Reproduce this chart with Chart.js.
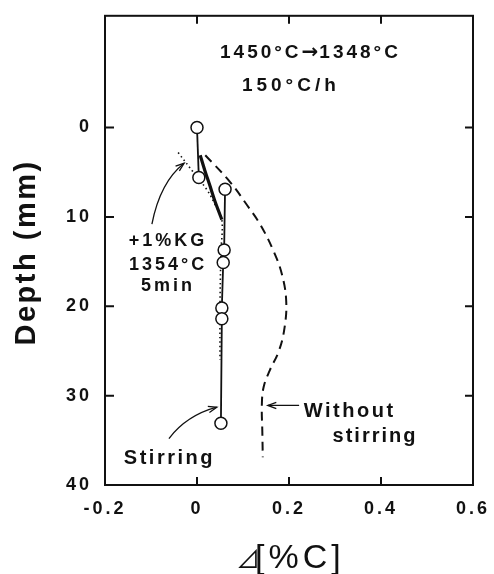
<!DOCTYPE html>
<html>
<head>
<meta charset="utf-8">
<script src="https://cdn.jsdelivr.net/npm/chart.js@4.4.1/dist/chart.umd.min.js"></script>
<style>
  html, body { margin: 0; padding: 0; background: #fff; }
</style>
</head>
<body>
<canvas id="chart" width="494" height="574"></canvas>
<script>
// values: x = delta %C, y = depth in mm
const stirTopX = [0, 0.004];
const stirTopY = [0, 5.6];
const stirX = [0.061, 0.059, 0.057, 0.054, 0.054, 0.052];
const stirY = [6.9, 13.7, 15.1, 20.2, 21.4, 33.1];
const calcX = [0.007, 0.017, 0.028, 0.040, 0.054];
const calcY = [3.1, 4.8, 6.5, 8.4, 10.3];
const kgX = [-0.041, -0.011, 0.022, 0.039, 0.054, 0.052, 0.050, 0.050];
const kgY = [2.8, 4.8, 7.0, 8.6, 10.3, 14, 20, 26];
const noStirX = [0.018, 0.072, 0.109, 0.138, 0.167, 0.185, 0.194, 0.190, 0.178, 0.158, 0.145, 0.141, 0.142, 0.143];
const noStirY = [3.1, 6.1, 8.7, 10.9, 13.9, 16.5, 19.5, 22.5, 25.0, 27.2, 29.0, 31.0, 34.0, 36.9];

const xTicks = [-0.2, 0, 0.2, 0.4, 0.6];
const yTicks = [0, 10, 20, 30, 40];

const headNotes = ["1450°C", "→", "1348°C", "150°C/h"];
const kgNotes = ["+1%KG", "1354°C", "5min"];
const stirNote = "Stirring";
const noStirNotes = ["Without", "stirring"];
const xTitle = ["⊿", "[%C]"];
const yTitle = "Depth (mm)";

const pts = (xs, ys) => xs.map((x, i) => ({ x: x, y: ys[i] }));
const FONT = '"Liberation Sans", Arial, "Noto Sans CJK JP", sans-serif';
const INK = "#111";

function arrow(ctx, x0, y0, cx, cy, x1, y1) {
  ctx.beginPath();
  ctx.moveTo(x0, y0);
  ctx.quadraticCurveTo(cx, cy, x1, y1);
  ctx.stroke();
  const a = Math.atan2(y1 - cy, x1 - cx);
  ctx.beginPath();
  ctx.moveTo(x1 - 9 * Math.cos(a - 0.35), y1 - 9 * Math.sin(a - 0.35));
  ctx.lineTo(x1, y1);
  ctx.lineTo(x1 - 9 * Math.cos(a + 0.35), y1 - 9 * Math.sin(a + 0.35));
  ctx.stroke();
}

const annot = {
  id: "annot",
  beforeDraw(chart) {
    chart.ctx.letterSpacing = "3px";
  },
  afterDraw(chart) {
    const ctx = chart.ctx;
    const xs = chart.scales.x, ys = chart.scales.y;
    const P = (x, y) => [xs.getPixelForValue(x), ys.getPixelForValue(y)];
    const { left, right, top, bottom } = chart.chartArea;
    ctx.save();
    ctx.strokeStyle = INK;
    ctx.fillStyle = INK;
    ctx.lineWidth = 2;
    ctx.strokeRect(left, top, right - left, bottom - top);
    ctx.beginPath();
    xTicks.slice(1, -1).forEach(v => {
      const p = xs.getPixelForValue(v);
      ctx.moveTo(p, bottom); ctx.lineTo(p, bottom - 8);
      ctx.moveTo(p, top); ctx.lineTo(p, top + 8);
    });
    yTicks.slice(0, -1).forEach(v => {
      const p = ys.getPixelForValue(v);
      ctx.moveTo(left, p); ctx.lineTo(left + 9, p);
      ctx.moveTo(right, p); ctx.lineTo(right - 8, p);
    });
    ctx.stroke();

    // heading, drawn in pieces so the arrow can be a full-size glyph
    ctx.textBaseline = "alphabetic";
    ctx.textAlign = "left";
    ctx.font = "bold 19px " + FONT;
    ctx.letterSpacing = "3px";
    let p = P(0.05, -7.78);
    ctx.fillText(headNotes[0], p[0], p[1]);
    let w = ctx.measureText(headNotes[0]).width;
    ctx.font = 'bold 20px "DejaVu Sans", sans-serif';
    ctx.letterSpacing = "0px";
    ctx.fillText(headNotes[1], p[0] + w, p[1]);
    w += ctx.measureText(headNotes[1]).width + 1;
    ctx.font = "bold 19px " + FONT;
    ctx.letterSpacing = "3px";
    ctx.fillText(headNotes[2], p[0] + w, p[1]);

    ctx.textAlign = "center";
    ctx.letterSpacing = "4px";
    p = P(0.204, -4.1); ctx.fillText(headNotes[3], p[0], p[1]);

    ctx.font = "bold 18px " + FONT;
    ctx.letterSpacing = "3px";
    [13.3, 15.9, 18.3].forEach((d, i) => {
      p = P(-0.063, d); ctx.fillText(kgNotes[i], p[0], p[1]);
    });
    ctx.font = "bold 20px " + FONT;
    ctx.letterSpacing = "2.5px";
    p = P(-0.06, 37.6); ctx.fillText(stirNote, p[0], p[1]);
    p = P(0.332, 32.4); ctx.fillText(noStirNotes[0], p[0], p[1]);
    ctx.letterSpacing = "2px";
    p = P(0.387, 35.2); ctx.fillText(noStirNotes[1], p[0], p[1]);

    ctx.lineWidth = 1.3;
    arrow(ctx, ...P(-0.098, 10.8), ...P(-0.080, 6.1), ...P(-0.028, 4.0));
    arrow(ctx, ...P(-0.061, 34.8), ...P(-0.022, 32.2), ...P(0.043, 31.3));
    const a0 = P(0.222, 31.1), a1 = P(0.154, 31.1);
    arrow(ctx, a0[0], a0[1], (a0[0] + a1[0]) / 2, a1[1], a1[0], a1[1]);

    // axis titles
    ctx.font = "bold 29px " + FONT;
    ctx.letterSpacing = "2.5px";
    ctx.save();
    ctx.translate(35, (top + bottom) / 2 + 2);
    ctx.rotate(-Math.PI / 2);
    ctx.fillText(yTitle, 0, 0);
    ctx.restore();
    const cx = (left + right) / 2;
    ctx.textAlign = "left";
    ctx.font = '24px "Noto Sans CJK JP", "DejaVu Sans", sans-serif';
    ctx.letterSpacing = "0px";
    ctx.fillText(xTitle[0], cx - 53, 568);
    ctx.font = "34px " + FONT;
    ctx.letterSpacing = "4px";
    ctx.fillText(xTitle[1], cx - 34, 568);
    ctx.restore();
    ctx.letterSpacing = "0px";
  }
};

const circleStyle = {
  showLine: true,
  borderColor: INK,
  borderWidth: 1.8,
  pointRadius: 6,
  pointBackgroundColor: "#fff",
  pointBorderColor: INK,
  pointBorderWidth: 1.5,
  tension: 0
};

new Chart(document.getElementById("chart"), {
  type: "scatter",
  data: {
    datasets: [
      Object.assign({ label: "Stirring (top)", data: pts(stirTopX, stirTopY) }, circleStyle),
      Object.assign({ label: "Stirring", data: pts(stirX, stirY) }, circleStyle),
      {
        label: "Stirring curve", data: pts(calcX, calcY), showLine: true,
        borderColor: INK, borderWidth: 3.2, pointRadius: 0, tension: 0.3
      },
      {
        label: "+1%KG 1354°C 5min", data: pts(kgX, kgY), showLine: true,
        borderColor: INK, borderWidth: 1.6, borderDash: [1.5, 3], pointRadius: 0, tension: 0.35
      },
      {
        label: "Without stirring", data: pts(noStirX, noStirY), showLine: true,
        borderColor: INK, borderWidth: 2, borderDash: [9, 6], pointRadius: 0, tension: 0.4
      }
    ]
  },
  options: {
    responsive: false,
    animation: false,
    events: [],
    layout: { padding: { top: 12, right: 21, left: 0, bottom: 0 } },
    plugins: { legend: { display: false }, tooltip: { enabled: false } },
    scales: {
      x: {
        type: "linear", min: -0.2, max: 0.6,
        grid: { display: false }, border: { display: false },
        afterBuildTicks: s => { s.ticks = xTicks.map(v => ({ value: v })); },
        afterFit: s => { s.height = 89; },
        ticks: {
          padding: 5, color: INK, maxRotation: 0, autoSkip: false,
          font: { family: FONT, size: 18, weight: "bold" },
          callback: v => (v === 0 ? "0" : v.toFixed(1))
        }
      },
      y: {
        type: "linear", reverse: true, min: -12.5, max: 40,
        grid: { display: false }, border: { display: false },
        afterBuildTicks: s => { s.ticks = yTicks.map(v => ({ value: v })); },
        afterFit: s => { s.width = 105; },
        ticks: {
          padding: 5, color: INK, autoSkip: false,
          font: { family: FONT, size: 18, weight: "bold" }
        }
      }
    }
  },
  plugins: [annot]
});
</script>
</body>
</html>
